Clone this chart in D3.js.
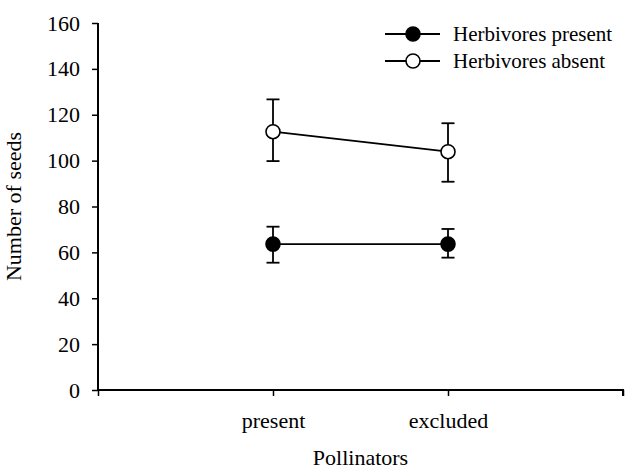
<!DOCTYPE html>
<html>
<head>
<meta charset="utf-8">
<script src="https://cdn.jsdelivr.net/npm/d3@7"></script>
<style>
  body { margin: 0; background: #fff; }
  text { font-family: "Liberation Serif", "Times New Roman", serif; fill: #000; }
</style>
</head>
<body>
<script>
// data
var categories = ["present", "excluded"];
var seriesNames = ["Herbivores present", "Herbivores absent"];
var presentMeans = [63.6, 63.6];
var presentLow = [55.5, 57.7];
var presentHigh = [71.2, 70.2];
var absentMeans = [112.6, 103.9];
var absentLow = [99.8, 90.8];
var absentHigh = [126.7, 116.3];
var yTicks = [0, 20, 40, 60, 80, 100, 120, 140, 160];

var margin = {left: 98, right: 7, top: 23, bottom: 80};
var width = 630 - margin.left - margin.right;
var height = 470 - margin.top - margin.bottom;

var svg = d3.select("body")
  .append("svg")
  .attr("width", 630)
  .attr("height", 470);

var g = svg.append("g")
  .attr("transform", "translate(" + margin.left + "," + margin.top + ")");

var x = d3.scaleLinear()
  .domain([0, categories.length + 1])
  .range([0, width]);

var y = d3.scaleLinear()
  .domain([0, 160])
  .range([height, 0]);

// y axis
var yAxis = g.append("g")
  .call(d3.axisLeft(y).tickValues(yTicks).tickSize(6).tickPadding(12));
yAxis.select(".domain").attr("stroke-width", 2).attr("d", "M0," + height + "V0");
yAxis.selectAll(".tick line").attr("stroke-width", 1.5);
yAxis.selectAll("text").attr("font-size", "22px");

// x axis, excel style with a tick at each end
var xAxis = g.append("g")
  .attr("transform", "translate(0," + height + ")")
  .call(d3.axisBottom(x)
    .tickValues([0, 1, 2, 3])
    .tickSize(6)
    .tickFormat(function(d) { return categories[d - 1] || ""; }));
xAxis.select(".domain").attr("stroke-width", 2).attr("d", "M0,0H" + width + "V6");
xAxis.selectAll(".tick line").attr("stroke-width", 1.5);
xAxis.selectAll("text")
  .attr("font-size", "22px")
  .attr("y", 38)
  .attr("dy", 0);

g.append("text")
  .attr("x", width / 2)
  .attr("y", height + 75)
  .attr("font-size", "22px")
  .attr("text-anchor", "middle")
  .text("Pollinators");

g.append("text")
  .attr("x", -(height / 2))
  .attr("y", -77)
  .attr("font-size", "22px")
  .attr("text-anchor", "middle")
  .attr("transform", "rotate(-90)")
  .text("Number of seeds");

var series = [
  {name: seriesNames[0], means: presentMeans, low: presentLow, high: presentHigh, fill: "#000"},
  {name: seriesNames[1], means: absentMeans, low: absentLow, high: absentHigh, fill: "#fff"}
];

series.forEach(function(s) {
  var pts = s.means.map(function(m, i) {
    return {x: i + 1, m: m, lo: s.low[i], hi: s.high[i]};
  });

  var line = d3.line()
    .x(function(d) { return x(d.x); })
    .y(function(d) { return y(d.m); });

  g.append("path")
    .datum(pts)
    .attr("d", line)
    .attr("fill", "none")
    .attr("stroke", "#000")
    .attr("stroke-width", 1.8);

  var err = g.selectAll(null)
    .data(pts)
    .enter()
    .append("g");

  err.append("line")
    .attr("x1", function(d) { return x(d.x); })
    .attr("x2", function(d) { return x(d.x); })
    .attr("y1", function(d) { return y(d.lo); })
    .attr("y2", function(d) { return y(d.hi); })
    .attr("stroke", "#000")
    .attr("stroke-width", 1.8);

  [function(d) { return y(d.lo); }, function(d) { return y(d.hi); }].forEach(function(fy) {
    err.append("line")
      .attr("x1", function(d) { return x(d.x) - 6.5; })
      .attr("x2", function(d) { return x(d.x) + 6.5; })
      .attr("y1", fy)
      .attr("y2", fy)
      .attr("stroke", "#000")
      .attr("stroke-width", 1.8);
  });

  err.append("circle")
    .attr("cx", function(d) { return x(d.x); })
    .attr("cy", function(d) { return y(d.m); })
    .attr("r", 7)
    .attr("fill", s.fill)
    .attr("stroke", "#000")
    .attr("stroke-width", 1.6);
});

// legend
var legend = svg.append("g")
  .attr("transform", "translate(385,34)");

var items = legend.selectAll("g")
  .data(series)
  .enter()
  .append("g")
  .attr("transform", function(d, i) { return "translate(0," + (i * 27) + ")"; });

items.append("line")
  .attr("x1", 0)
  .attr("x2", 55)
  .attr("stroke", "#000")
  .attr("stroke-width", 1.8);

items.append("circle")
  .attr("cx", 28)
  .attr("r", 7)
  .attr("fill", function(d) { return d.fill; })
  .attr("stroke", "#000")
  .attr("stroke-width", 1.6);

items.append("text")
  .attr("x", 68)
  .attr("dy", "0.35em")
  .attr("font-size", "21px")
  .text(function(d) { return d.name; });
</script>
</body>
</html>
